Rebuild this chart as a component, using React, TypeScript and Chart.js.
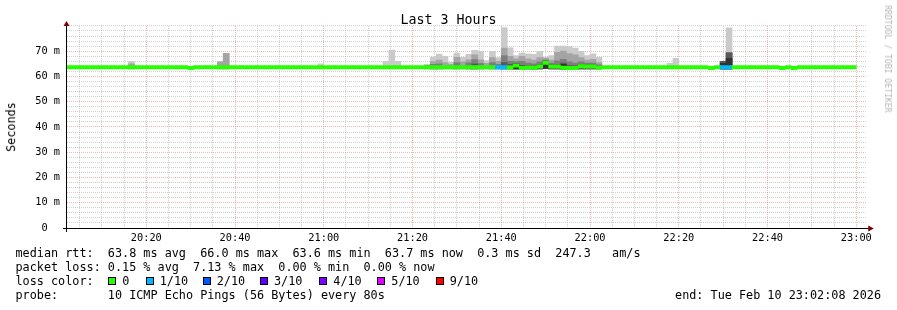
import React, { useEffect, useRef } from 'react';
import { Chart, registerables } from 'chart.js';

Chart.register(...registerables);

const MONO = '"DejaVu Sans Mono", "Liberation Mono", monospace';

// ---------------- data ----------------
// time axis: minutes after 20:00
const rangeStartMin = 2 + 8 / 60; // 20:02:08
const rangeEndMin = rangeStartMin + 180; // 23:02:08
const firstStepMin = 2; // centre of first 80 s step
const stepMin = 80 / 60;

const xLabelMinutes = [20, 40, 60, 80, 100, 120, 140, 160, 180];
const xTickLabels = ['20:20', '20:40', '21:00', '21:20', '21:40', '22:00', '22:20', '22:40', '23:00'];
const yLabelValues = [0, 10, 20, 30, 40, 50, 60, 70];
const yTickLabels = ['0  ', '10 m', '20 m', '30 m', '40 m', '50 m', '60 m', '70 m'];

// median RTT per 80 s step (ms)
const medianRtt = [
  63.6, 63.6, 63.6, 63.6, 63.6, 63.6, 63.6, 63.6, 63.6, 63.6,
  63.6, 63.6, 63.6, 63.6, 63.6, 63.6, 63.6, 63.6, 63.6, 63.6,
  63.6, 63.3, 63.6, 63.6, 63.6, 63.6, 63.6, 63.6, 63.6, 63.6,
  63.6, 63.6, 63.6, 63.6, 63.6, 63.6, 63.6, 63.6, 63.6, 63.6,
  63.6, 63.6, 63.6, 63.6, 63.6, 63.6, 63.6, 63.6, 63.6, 63.6,
  63.6, 63.6, 63.6, 63.6, 63.6, 63.6, 63.6, 63.6, 63.6, 63.6,
  63.6, 63.6, 63.6, 63.6, 63.6, 63.6, 63.6, 63.6, 63.6, 63.6,
  63.6, 63.6, 63.6, 63.6, 63.6, 63.5, 64.3, 63.3, 63.5, 63.4,
  63.9, 65.4, 63.9, 63.9, 63.4, 63.3, 63.3, 64.0, 63.9, 63.9,
  63.4, 63.6, 63.6, 63.6, 63.6, 63.6, 63.6, 63.6, 63.6, 63.6,
  63.6, 63.6, 63.6, 63.6, 63.6, 63.6, 63.6, 63.6, 63.6, 63.3,
  63.6, 63.6, 63.6, 63.6, 63.6, 63.6, 63.6, 63.6, 63.6, 63.6,
  63.6, 63.3, 63.6, 63.3, 63.6, 63.6, 63.6, 63.6, 63.6, 63.6,
  63.6, 63.6, 63.6, 63.6,
];

// packet loss per step (lost pings out of 10)
const lossTenths = [
  0, 0, 0, 0, 0, 0, 0, 0, 0, 0,
  0, 0, 0, 0, 0, 0, 0, 0, 0, 0,
  0, 0, 0, 0, 0, 0, 0, 0, 0, 0,
  0, 0, 0, 0, 0, 0, 0, 0, 0, 0,
  0, 0, 0, 0, 0, 0, 0, 0, 0, 0,
  0, 0, 0, 0, 0, 0, 0, 0, 0, 0,
  0, 0, 0, 0, 0, 0, 0, 0, 0, 0,
  0, 0, 0, 1, 1, 0, 0, 0, 0, 0,
  0, 0, 0, 0, 0, 0, 0, 0, 0, 0,
  0, 0, 0, 0, 0, 0, 0, 0, 0, 0,
  0, 0, 0, 0, 0, 0, 0, 0, 0, 0,
  0, 1, 1, 0, 0, 0, 0, 0, 0, 0,
  0, 0, 0, 0, 0, 0, 0, 0, 0, 0,
  0, 0, 0, 0,
];

// smoke (ping spread) for steps that show it
const smokeStep = [
  11, 26, 27, 43, 54, 55, 56,
  61, 62, 63, 64, 65, 66, 67, 68, 69, 70,
  71, 72, 73, 74, 75, 76, 77, 78, 79, 80,
  81, 82, 83, 84, 85, 86, 87, 88, 89, 90,
  102, 103, 111, 112,
];
const smokeLow = [
  63.0, 63.0, 63.0, 63.0, 63.0, 63.0, 63.0,
  63.0, 63.0, 63.0, 63.0, 63.0, 63.0, 63.0, 63.0, 63.0, 63.0,
  63.0, 63.0, 63.0, 63.0, 63.0, 63.0, 62.9, 63.0, 62.9, 63.0,
  63.2, 63.0, 63.0, 62.9, 62.9, 62.9, 63.0, 63.0, 63.0, 63.0,
  63.0, 63.0, 63.0, 63.0,
];
const smokeLayer1 = [
  66.0, 65.8, 69.1, 65.0, 66.0, 70.4, 66.0,
  64.8, 67.7, 68.8, 68.0, 65.6, 69.2, 67.6, 68.7, 70.3, 69.9,
  66.3, 69.9, 67.5, 79.3, 71.3, 68.3, 69.2, 68.9, 68.7, 69.9,
  67.7, 68.3, 72.0, 72.0, 71.8, 71.2, 69.9, 68.3, 68.9, 67.6,
  65.2, 67.2, 66.0, 79.2,
];
const smokeLayer2 = [
  65.0, 65.8, 69.1, null, null, null, null,
  64.4, 65.9, 66.5, 65.5, 64.8, 67.6, 65.8, 66.6, 68.5, 66.6,
  65.2, 67.5, 66.0, 71.2, 68.0, 67.0, 68.0, 67.0, 66.5, 67.5,
  67.2, 66.5, 69.5, 70.0, 69.0, 68.5, 67.5, 66.5, 66.8, 65.5,
  null, null, 66.0, 69.3,
];
const smokeLayer3 = [
  null, null, null, null, null, null, null,
  null, 64.8, 65.0, null, null, 65.5, null, 65.4, 66.7, 65.2,
  null, 65.5, 64.8, 68.3, 66.0, 65.8, 66.0, 65.3, 65.0, 65.8,
  66.5, 65.3, 66.2, 66.8, 65.8, 65.3, 65.8, 65.3, 65.3, 64.6,
  null, null, 66.0, 69.3,
];
const smokeLayer4 = [
  null, null, null, null, null, null, null,
  null, null, null, null, null, null, null, null, 65.0, null,
  null, null, null, 65.5, 64.8, 65.2, 64.4, 64.4, 64.2, 64.8,
  66.2, 64.8, 64.8, 65.3, 64.3, 64.2, 64.8, 64.6, 64.6, null,
  null, null, 66.0, 69.3,
];
const smokeLayer5 = [
  null, null, null, null, null, null, null,
  null, null, null, null, null, null, null, null, null, null,
  null, null, null, null, null, 65.0, null, null, null, null,
  66.0, null, null, 64.8, null, null, null, null, null, null,
  null, null, 65.2, 67.2,
];

const lossLegendLabels = ['0', '1/10', '2/10', '3/10', '4/10', '5/10', '9/10'];
const lossLegendColors = ['#26ff00', '#00b8ff', '#0059ff', '#5e00ff', '#7e00ff', '#dd00ff', '#ff0000'];

const statsLine1 = 'median rtt:  63.8 ms avg  66.0 ms max  63.6 ms min  63.7 ms now  0.3 ms sd  247.3   am/s';
const statsLine2 = 'packet loss: 0.15 % avg  7.13 % max  0.00 % min  0.00 % now';
const lossLine = 'loss color:';
const probeLine = 'probe:       10 ICMP Echo Pings (56 Bytes) every 80s';
const endLine = 'end: Tue Feb 10 23:02:08 2026';

// ---------------- style ----------------
const SMOKE_COLORS = ['#cacaca', '#a4a4a4', '#7e7e7e', '#585858', '#323232'];
const GRID = 'rgba(143,143,143,0.42)';
const MGRID = 'rgba(222,80,80,0.42)';
const ARROW = '#7f0000';
const LINE_HALF = 0.65;

const W = 897;
const H = 310;
const LEFT = 67;
const RIGHT = 865.75;
const TOP = 25.9;
const BOTTOM = 228;

const lossColorFor = (l: number) => lossLegendColors[Math.min(l, 6)];
const stepTime = (s: number) => firstStepMin + s * stepMin;

const axesPlugin = {
  id: 'rrdAxes',
  afterDraw(chart: any) {
    const { ctx, chartArea: a } = chart;
    ctx.save();
    ctx.strokeStyle = '#000';
    ctx.lineWidth = 1;
    ctx.setLineDash([]);
    const y0 = Math.round(a.bottom) + 0.5;
    const x0 = Math.round(a.left) - 0.5;
    ctx.beginPath();
    ctx.moveTo(a.left - 4, y0);
    ctx.lineTo(a.right + 3, y0);
    ctx.moveTo(x0, a.bottom + 4);
    ctx.lineTo(x0, a.top - 1);
    ctx.stroke();
    ctx.fillStyle = ARROW;
    ctx.beginPath();
    ctx.moveTo(a.right + 2.5, y0 - 3);
    ctx.lineTo(a.right + 8, y0);
    ctx.lineTo(a.right + 2.5, y0 + 3);
    ctx.closePath();
    ctx.fill();
    ctx.beginPath();
    ctx.moveTo(x0 - 3, a.top);
    ctx.lineTo(x0, a.top - 5);
    ctx.lineTo(x0 + 3, a.top);
    ctx.closePath();
    ctx.fill();
    ctx.restore();
  },
};

const textTop = (baseline: number, size: number) => baseline - 0.846 * size;

export default function App() {
  const ref = useRef<HTMLCanvasElement>(null);

  useEffect(() => {
    const layers = [smokeLayer1, smokeLayer2, smokeLayer3, smokeLayer4, smokeLayer5];
    const smokeSets = layers.map((layer, k) => ({
      type: 'bar',
      label: 'smoke' + (k + 1),
      data: smokeStep
        .map((s, i) => (layer[i] == null ? null : { x: stepTime(s), y: [smokeLow[i], layer[i]] }))
        .filter((d) => d !== null),
      backgroundColor: SMOKE_COLORS[k],
      borderWidth: 0,
      grouped: false,
      barPercentage: 1,
      categoryPercentage: 1,
      order: 10 - k,
      clip: 0,
    }));
    const medianSet = {
      type: 'bar',
      label: 'median rtt',
      data: medianRtt.map((m, j) => ({ x: stepTime(j), y: [m - LINE_HALF, m + LINE_HALF] })),
      backgroundColor: lossTenths.map(lossColorFor),
      borderWidth: 0,
      grouped: false,
      barPercentage: 1,
      categoryPercentage: 1,
      order: 1,
      clip: 0,
    };

    const xGrid: number[] = [];
    for (let m = 5; m <= 180; m += 5) xGrid.push(m);
    const yGrid: number[] = [];
    for (let v = 0; v <= 80; v += 2) yGrid.push(v);

    const chart = new Chart(ref.current as HTMLCanvasElement, {
      type: 'bar',
      data: { datasets: [...smokeSets, medianSet] as any },
      options: {
        responsive: false,
        maintainAspectRatio: false,
        animation: false,
        events: [],
        layout: { padding: { left: 0, right: W - RIGHT, top: TOP, bottom: 0 } },
        plugins: { legend: { display: false }, tooltip: { enabled: false }, title: { display: false } },
        scales: {
          x: {
            type: 'linear',
            min: rangeStartMin,
            max: rangeEndMin,
            offset: false,
            afterBuildTicks: (s: any) => {
              s.ticks = xGrid.map((v) => ({ value: v }));
            },
            afterFit: (s: any) => {
              s.height = H - BOTTOM;
            },
            grid: {
              offset: false,
              drawTicks: false,
              lineWidth: 1,
              color: (c: any) => (c.tick && c.tick.value % 20 === 0 ? MGRID : GRID),
            },
            border: { display: false, dash: [1, 1] },
            ticks: {
              autoSkip: false,
              maxRotation: 0,
              minRotation: 0,
              padding: 4,
              color: '#000',
              font: { family: MONO, size: 10.3 },
              callback: (v: any) => {
                const i = xLabelMinutes.indexOf(Number(v));
                return i >= 0 ? xTickLabels[i] : '';
              },
            },
          },
          y: {
            type: 'linear',
            min: 0,
            max: 80,
            afterBuildTicks: (s: any) => {
              s.ticks = yGrid.map((v) => ({ value: v }));
            },
            afterFit: (s: any) => {
              s.width = LEFT;
            },
            grid: {
              drawTicks: false,
              lineWidth: 1,
              color: (c: any) =>
                c.tick && c.tick.value % 10 === 0 && c.tick.value < 80 ? MGRID : GRID,
            },
            border: { display: false, dash: [1, 1] },
            ticks: {
              autoSkip: false,
              padding: 7,
              color: '#000',
              font: { family: MONO, size: 10.3 },
              callback: (v: any) => {
                const i = yLabelValues.indexOf(Number(v));
                return i >= 0 ? yTickLabels[i] : '';
              },
            },
          },
        },
      } as any,
      plugins: [axesPlugin as any],
    });
    return () => chart.destroy();
  }, []);

  const F = 11.8;
  const baselines = [258.3, 272.3, 286.3, 300.3];
  const lossBoxX = [108.3, 145.7, 202.7, 260, 319.3, 377.3, 435.7];
  const common: React.CSSProperties = {
    position: 'absolute',
    whiteSpace: 'pre',
    fontFamily: MONO,
    color: '#000',
  };

  return (
    <div
      style={{
        position: 'absolute',
        left: 0,
        top: 0,
        width: W,
        height: H,
        background: '#fff',
        overflow: 'hidden',
      }}
    >
      <canvas
        ref={ref}
        width={W}
        height={H}
        style={{ position: 'absolute', left: 0, top: 0, width: W, height: H }}
      />
      <div
        style={{
          ...common,
          left: 0,
          width: W,
          textAlign: 'center',
          top: textTop(24.7, 13.3),
          fontSize: 13.3,
          lineHeight: '13.3px',
        }}
      >
        Last 3 Hours
      </div>
      <div
        style={{
          ...common,
          left: 12,
          top: 126.5,
          fontSize: F,
          lineHeight: F + 'px',
          transform: 'translate(-50%, -50%) rotate(-90deg)',
        }}
      >
        Seconds
      </div>
      <div
        style={{
          ...common,
          left: 887.8,
          top: 58.5,
          fontSize: 8.1,
          lineHeight: '8.1px',
          color: '#b4b4b4',
          transform: 'translate(-50%, -50%) rotate(90deg)',
        }}
      >
        RRDTOOL / TOBI OETIKER
      </div>
      <div style={{ ...common, left: 15.5, top: textTop(baselines[0], F), fontSize: F, lineHeight: F + 'px' }}>
        {statsLine1}
      </div>
      <div style={{ ...common, left: 15.5, top: textTop(baselines[1], F), fontSize: F, lineHeight: F + 'px' }}>
        {statsLine2}
      </div>
      <div style={{ ...common, left: 15.5, top: textTop(baselines[2], F), fontSize: F, lineHeight: F + 'px' }}>
        {lossLine}
      </div>
      {lossLegendLabels.map((lab, i) => (
        <React.Fragment key={lab}>
          <div
            style={{
              position: 'absolute',
              left: lossBoxX[i],
              top: 277,
              width: 8,
              height: 8,
              boxSizing: 'border-box',
              border: '1px solid #000',
              background: lossLegendColors[i],
            }}
          />
          <div
            style={{
              ...common,
              left: lossBoxX[i] + 14,
              top: textTop(baselines[2], F),
              fontSize: F,
              lineHeight: F + 'px',
            }}
          >
            {lab}
          </div>
        </React.Fragment>
      ))}
      <div style={{ ...common, left: 15.5, top: textTop(baselines[3], F), fontSize: F, lineHeight: F + 'px' }}>
        {probeLine}
      </div>
      <div style={{ ...common, right: 16, top: textTop(baselines[3], F), fontSize: F, lineHeight: F + 'px' }}>
        {endLine}
      </div>
    </div>
  );
}
